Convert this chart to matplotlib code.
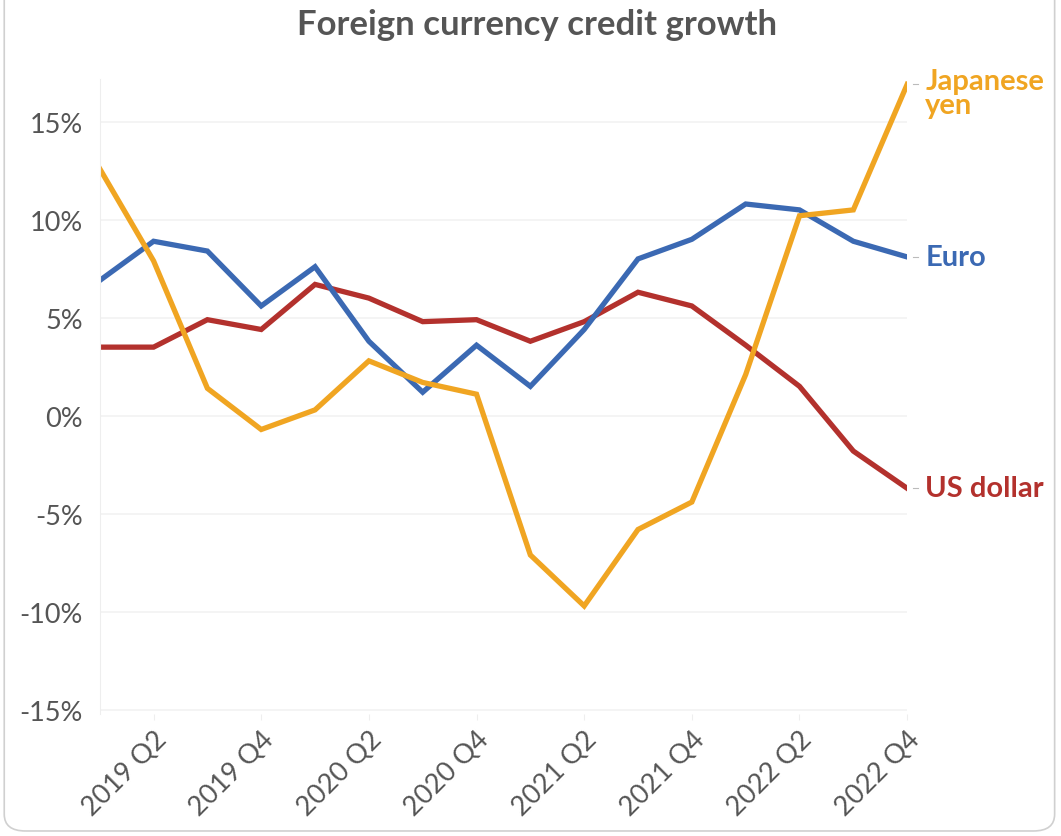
import matplotlib.pyplot as plt
from matplotlib.patches import FancyBboxPatch

plt.rcParams['font.family'] = ['Lato', 'DejaVu Sans']

# quarterly periods, 2019 Q1 .. 2022 Q4
quarters = ['2019 Q1', '2019 Q2', '2019 Q3', '2019 Q4',
            '2020 Q1', '2020 Q2', '2020 Q3', '2020 Q4',
            '2021 Q1', '2021 Q2', '2021 Q3', '2021 Q4',
            '2022 Q1', '2022 Q2', '2022 Q3', '2022 Q4']

# credit growth in percent
euro = [6.9, 8.9, 8.4, 5.6, 7.6, 3.8, 1.2, 3.6,
        1.5, 4.4, 8.0, 9.0, 10.8, 10.5, 8.9, 8.1]
us_dollar = [3.5, 3.5, 4.9, 4.4, 6.7, 6.0, 4.8, 4.9,
             3.8, 4.8, 6.3, 5.6, 3.6, 1.5, -1.8, -3.7]
yen = [12.6, 7.9, 1.4, -0.7, 0.3, 2.8, 1.7, 1.1,
       -7.1, -9.7, -5.8, -4.4, 2.1, 10.2, 10.5, 16.9]

yticks = [-15, -10, -5, 0, 5, 10, 15]

c_euro = '#3b69b3'
c_usd = '#b3312d'
c_yen = '#f0a522'
c_text = '#555555'

fig = plt.figure(figsize=(10.61, 8.37), dpi=100)
fig.patches.append(FancyBboxPatch((0.004, 0.006), 0.99, 1.2,
                                  boxstyle='round,pad=0,rounding_size=0.02',
                                  transform=fig.transFigure, fill=False,
                                  edgecolor='#d0d0d0', linewidth=1.2))

ax = fig.add_axes([0.094, 0.146, 0.761, 0.759])
x = list(range(len(quarters)))

ax.plot(x, us_dollar, color=c_usd, lw=3.8, solid_joinstyle='miter')
ax.plot(x, euro, color=c_euro, lw=3.8, solid_joinstyle='miter')
ax.plot(x, yen, color=c_yen, lw=3.8, solid_joinstyle='miter')

ax.set_xlim(0, len(quarters) - 1)
ax.set_ylim(-15.2, 17.2)
ax.set_yticks(yticks)
ax.set_yticklabels([f'{v}%' for v in yticks])
ax.set_xticks(x[1::2])
ax.set_xticklabels(quarters[1::2], rotation=45, ha='right', rotation_mode='anchor')

ax.tick_params(axis='y', length=0, pad=12, labelsize=19.5, labelcolor=c_text)
ax.tick_params(axis='x', length=4, color='#eeeeee', pad=5, labelsize=19.5, labelcolor=c_text)
ax.grid(axis='y', color='#f2f2f2', lw=1.2)
ax.set_axisbelow(True)
for s in ['top', 'right', 'bottom']:
    ax.spines[s].set_visible(False)
ax.spines['left'].set_color('#eeeeee')

# labels at the line ends
end = len(quarters) - 1
for vals, name, col, dy in [(yen, 'Japanese\nyen', c_yen, -6),
                            (euro, 'Euro', c_euro, 0),
                            (us_dollar, 'US dollar', c_usd, 0)]:
    ax.annotate(name, xy=(end, vals[-1]), xytext=(13, dy),
                textcoords='offset points', color=col, fontsize=21,
                fontweight='bold', va='center', ha='left', linespacing=0.9,
                annotation_clip=False)
    ax.plot([end + 0.1, end + 0.2], [vals[-1], vals[-1]], color='#bbbbbb',
            lw=0.8, clip_on=False)

fig.text(0.506, 0.970, 'Foreign currency credit growth', ha='center', va='center',
         fontsize=25, fontweight='bold', color=c_text)

fig.savefig('out.png', dpi=100)
